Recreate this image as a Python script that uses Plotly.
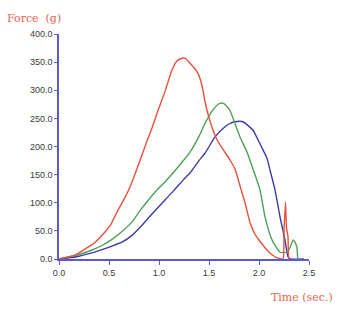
import plotly.graph_objects as go

red_t = [0, 0.05, 0.10, 0.16, 0.20, 0.29, 0.35, 0.46, 0.52, 0.59, 0.65, 0.71, 0.81, 0.87, 0.93, 0.99,
         1.06, 1.13, 1.18, 1.23, 1.27, 1.31, 1.35, 1.39, 1.43, 1.46, 1.51, 1.58, 1.64, 1.71, 1.76,
         1.81, 1.86, 1.91, 1.96, 1.99, 2.06, 2.10, 2.16, 2.20, 2.24, 2.25, 2.265, 2.275, 2.29, 2.30, 2.33]
red_v = [0, 2, 4, 7, 11, 21, 28, 48, 62, 87, 106, 128, 175, 205, 233, 264,
         298, 336, 352, 357, 356, 348, 340, 330, 308, 280, 245, 212, 195, 176, 160,
         130, 100, 65, 44, 36, 20, 12, 4, 1, 0, 50, 101, 55, 40, 0, 0]

green_t = [0, 0.10, 0.20, 0.33, 0.43, 0.53, 0.63, 0.73, 0.81, 0.89, 0.97, 1.06, 1.15, 1.23, 1.31,
           1.40, 1.46, 1.54, 1.60, 1.64, 1.68, 1.71, 1.81, 1.88, 1.94, 2.01, 2.06, 2.13, 2.21,
           2.28, 2.31, 2.34, 2.36, 2.38, 2.39, 2.42]
green_v = [0, 4, 8, 16, 24, 35, 49, 66, 86, 104, 121, 137, 155, 172, 190,
           218, 241, 265, 276, 277, 271, 264, 217, 190, 160, 123, 75, 34, 12,
           12, 20, 34, 30, 20, 0, 0]

blue_t = [0, 0.10, 0.20, 0.29, 0.40, 0.53, 0.63, 0.73, 0.83, 0.93, 1.06, 1.15, 1.25, 1.31, 1.40,
          1.46, 1.56, 1.64, 1.70, 1.76, 1.84, 1.94, 1.99, 2.04, 2.08, 2.11, 2.16, 2.21, 2.26, 2.29,
          2.32, 2.45]
blue_v = [0, 2, 5, 9, 15, 23, 30, 42, 60, 80, 105, 122, 142, 153, 175,
          188, 217, 232, 240, 244, 244, 229, 212, 194, 179, 158, 123, 75, 34, 4,
          0, 0]

x_ticks = [0.0, 0.5, 1.0, 1.5, 2.0, 2.5]
y_ticks = [0, 50, 100, 150, 200, 250, 300, 350, 400]

axis_col = "#5a5ad0"
lab_col = "#e8664e"
tick_font = dict(family="Liberation Sans", size=9, color="#3a3a3a")

fig = go.Figure()
for t, v, c in [(blue_t, blue_v, "#3c3ca8"), (green_t, green_v, "#4ea055"), (red_t, red_v, "#e8503c")]:
    fig.add_trace(go.Scatter(x=t, y=v, mode="lines", line=dict(color=c, width=1.4, shape="spline", smoothing=0.5),
                             showlegend=False))

fig.update_layout(
    width=342, height=323,
    margin=dict(l=59, r=33, t=34, b=64),
    paper_bgcolor="white", plot_bgcolor="white",
    xaxis=dict(range=[0, 2.5], tickvals=x_ticks, tickformat=".1f", showgrid=False, zeroline=False,
               showline=True, linecolor=axis_col, linewidth=1.5, ticks="outside", ticklen=4,
               tickcolor=axis_col, tickfont=tick_font),
    yaxis=dict(range=[0, 400], tickvals=y_ticks, tickformat=".1f", showgrid=False, zeroline=False,
               showline=True, linecolor=axis_col, linewidth=1.5, ticks="outside", ticklen=3,
               tickcolor=axis_col, tickfont=tick_font),
    annotations=[
        dict(text="Force  (g)", xref="paper", yref="paper", x=-0.216, y=1.071, xanchor="left",
             yanchor="middle", showarrow=False, font=dict(family="DejaVu Serif", size=11, color=lab_col)),
        dict(text="Time (sec.)", xref="paper", yref="paper", x=1.105, y=-0.169, xanchor="right",
             yanchor="middle", showarrow=False, font=dict(family="DejaVu Serif", size=11, color=lab_col)),
    ],
)
fig.write_html("out.html")
